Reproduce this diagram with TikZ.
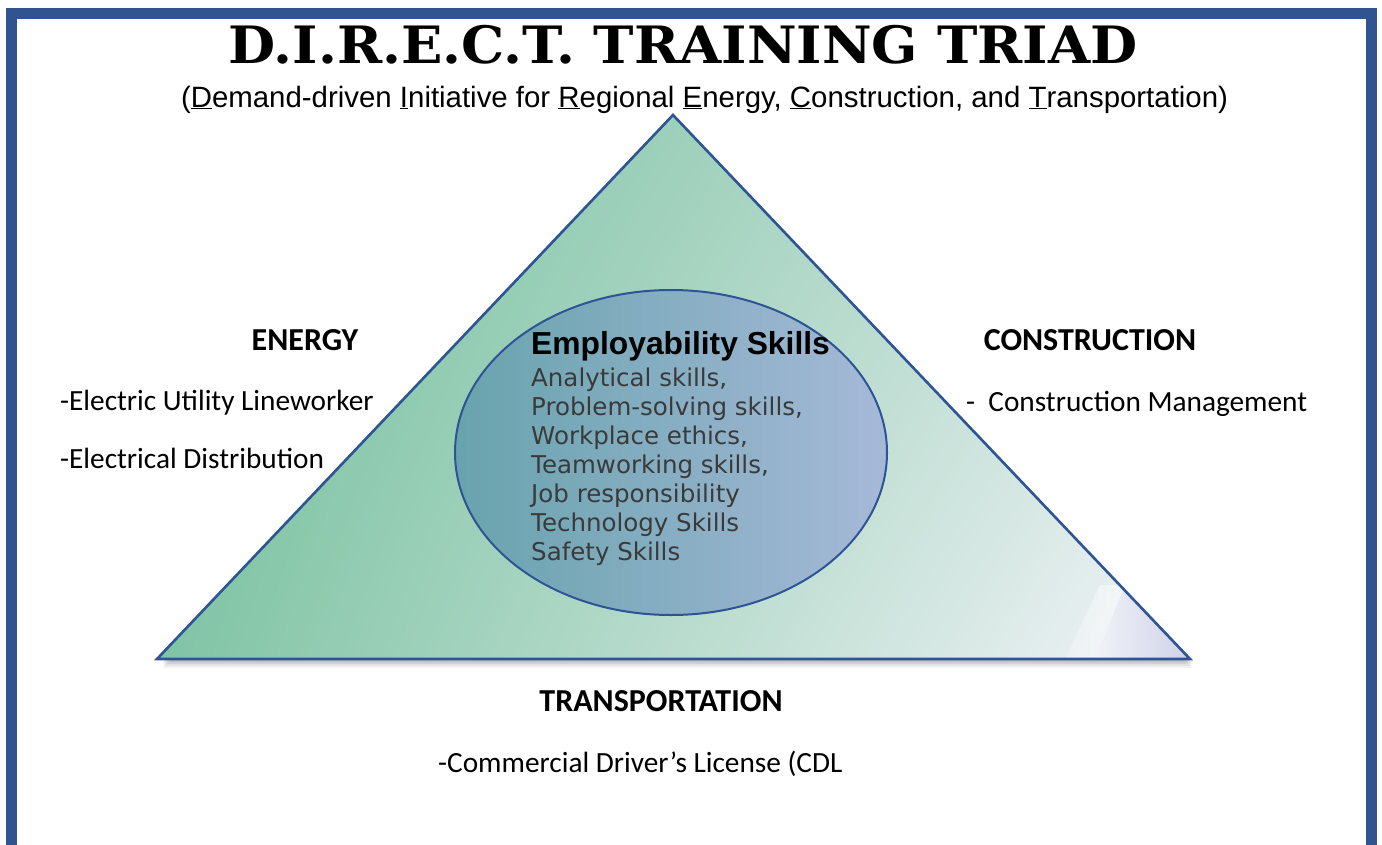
\documentclass[tikz,border=0pt]{standalone}
\usepackage{fontspec}
\usepackage{graphicx}
\usetikzlibrary{calc,shapes.geometric,shadings}
\setmainfont{Carlito}
\newfontfamily\titlefont{DejaVu Serif}
\newfontfamily\arialfont{Liberation Sans}
\newfontfamily\verdfont{DejaVu Sans}
\definecolor{framecol}{RGB}{47,84,143}
\definecolor{tristroke}{RGB}{46,84,150}
\definecolor{gUL}{RGB}{108,189,152}
\definecolor{gUR}{RGB}{205,226,220}
\definecolor{gLL}{RGB}{128,196,164}
\definecolor{gLR}{RGB}{243,244,249}
\definecolor{elL}{RGB}{104,163,173}
\definecolor{elR}{RGB}{166,185,216}
\definecolor{lav}{RGB}{196,200,228}
\definecolor{skilltext}{RGB}{58,58,58}
\tikzset{
  framebox/.style={draw=framecol, line width=11pt},
  tri/.style={draw=tristroke, line width=2.6pt, line join=miter},
  ellbox/.style={ellipse, draw=tristroke, line width=2pt, minimum width=432pt, minimum height=325pt, inner sep=0pt,
     left color=elL, right color=elR},
  head/.style={font=\bfseries\fontsize{32}{36}\selectfont, inner sep=0pt},
  item/.style={font=\fontsize{29.3}{34}\selectfont, inner sep=0pt},
  skill/.style={font=\verdfont\fontsize{24.5}{29}\selectfont, text=skilltext, inner sep=0pt, anchor=base west},
}
\begin{document}
\begin{tikzpicture}[x=1pt,y=-1pt]
\useasboundingbox (0,0) rectangle (1382,844);
\fill[white] (0,0) rectangle (1382,844);
% frame
\draw[framebox] (11.5,13) rectangle (1371,850);
% title
\node[anchor=base, inner sep=0pt] (title) at (683,63)
  {\scalebox{1.055}[1]{\titlefont\bfseries\fontsize{51.5}{58}\selectfont D.I.R.E.C.T. TRAINING TRIAD}};
\node[anchor=base, inner sep=0pt] (subtitle) at (704.5,107)
  {\arialfont\fontsize{29.4}{33}\selectfont (\underline{D}emand-driven \underline{I}nitiative for \underline{R}egional \underline{E}nergy, \underline{C}onstruction, and \underline{T}ransportation)};
% triangle corners
\coordinate (A) at (673,115);
\coordinate (B) at (157,659);
\coordinate (C) at (1190,659);
% shadow
\foreach \d/\o in {9/0.05,7/0.06,5/0.07,3/0.08}{
  \fill[black, opacity=\o] ($(A)+(1,\d)$) -- ($(B)+(6,\d)$) -- ($(C)+(2,\d)$) -- cycle;
}
% triangle fill
\shade[upper left=gUL, upper right=gUR, lower left=gLL, lower right=gLR] (A) -- (B) -- (C) -- cycle;
\begin{scope}
  \clip (A) -- (B) -- (C) -- cycle;
  \shade[left color=gLR, right color=lav, opacity=0.85] (1095,659) -- (1125,585) -- (1200,585) -- (1200,659) -- cycle;
  \shade[left color=gLR, right color=white, opacity=0.5] (1065,659) -- (1100,585) -- (1125,585) -- (1095,659) -- cycle;
\end{scope}
\draw[tri] (A) -- (B) -- (C) -- cycle;
% ellipse
\node[ellbox] (ell) at (671,452.5) {};
\node[anchor=base west, inner sep=0pt, font=\arialfont\bfseries\fontsize{31.8}{36}\selectfont] (emp) at (531,354) {Employability Skills};
\node[skill] (s1) at (531,386) {Analytical skills,};
\node[skill] (s2) at (531,415) {Problem-solving skills,};
\node[skill] (s3) at (531,444) {Workplace ethics,};
\node[skill] (s4) at (531,473) {Teamworking skills,};
\node[skill] (s5) at (531,502) {Job responsibility};
\node[skill] (s6) at (531,531) {Technology Skills};
\node[skill] (s7) at (531,560) {Safety Skills};
% side labels
\node[head, anchor=base] (energy) at (305,350) {ENERGY};
\node[item, anchor=base west] (e1) at (60,410) {-Electric Utility Lineworker};
\node[item, anchor=base west] (e2) at (60,468) {-Electrical Distribution};
\node[head, anchor=base] (constr) at (1090,350) {CONSTRUCTION};
\node[item, anchor=base west] (c1) at (966,411) {-\ \ Construction Management};
\node[head, anchor=base] (transp) at (661,711) {TRANSPORTATION};
\node[item, anchor=base west] (t1) at (438,772) {-Commercial Driver’s License (CDL};
\end{tikzpicture}
\end{document}
